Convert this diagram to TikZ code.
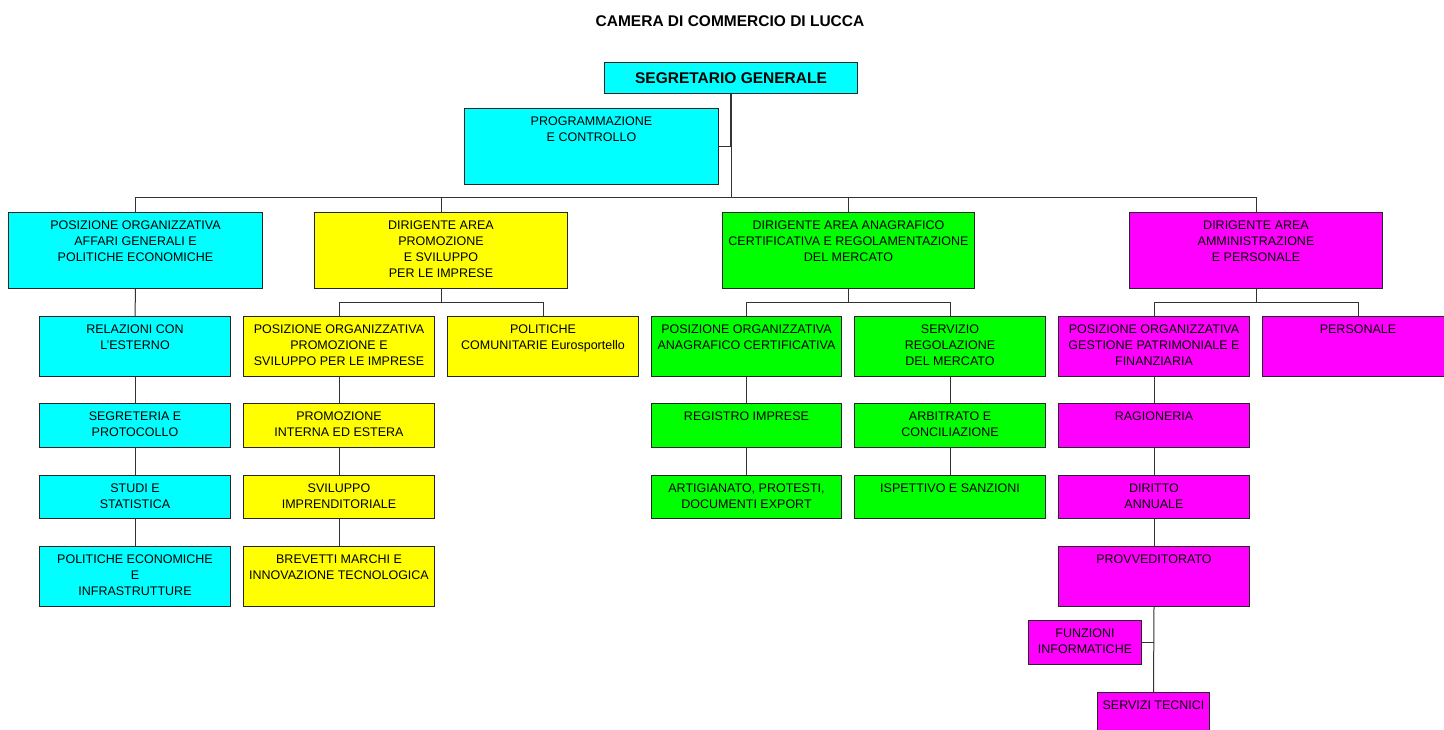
\documentclass[tikz,border=0pt]{standalone}
\usepackage{fontspec}
\setmainfont{Liberation Sans}
\usepackage{tikz}
\usepackage{xcolor}
\definecolor{aqua}{HTML}{00FFFF}
\definecolor{giallo}{HTML}{FFFF00}
\definecolor{verde}{HTML}{00FF00}
\definecolor{viola}{HTML}{FF00FF}

\begin{document}
\begin{tikzpicture}[x=1pt, y=-1pt,
  box/.style={draw=black!85, line width=1pt, fill=#1, anchor=north west, inner sep=0pt},
  txt/.style={anchor=north, yshift=-8.5pt, inner sep=0pt, align=center, font=\fontsize{12.5}{16}\selectfont},
  link/.style={draw=black!80, line width=1pt}]
\clip (0,0) rectangle (1444,729);

\node [font=\bfseries\fontsize{15.5}{18}\selectfont] (title) at (730,21) {CAMERA DI COMMERCIO DI LUCCA};

% vertice
\node [box=aqua, minimum width=253, minimum height=31, font=\bfseries\fontsize{15.5}{18}\selectfont] (segr) at (604,62) {SEGRETARIO GENERALE};
\node [box=aqua, minimum width=254, minimum height=76] (prog) at (464,108) {};
\node [txt] (prog-t) at (prog.north) {PROGRAMMAZIONE\\E CONTROLLO};

% aree
\node [box=aqua, minimum width=254, minimum height=76] (affari) at (8,212) {};
\node [txt] (affari-t) at (affari.north) {POSIZIONE ORGANIZZATIVA\\AFFARI GENERALI E\\POLITICHE ECONOMICHE};
\node [box=giallo, minimum width=253, minimum height=76] (dirpro) at (314,212) {};
\node [txt] (dirpro-t) at (dirpro.north) {DIRIGENTE AREA\\PROMOZIONE\\E SVILUPPO\\PER LE IMPRESE};
\node [box=verde, minimum width=252, minimum height=76] (diranag) at (722,212) {};
\node [txt] (diranag-t) at (diranag.north) {DIRIGENTE AREA ANAGRAFICO\\CERTIFICATIVA E REGOLAMENTAZIONE\\DEL MERCATO};
\node [box=viola, minimum width=253, minimum height=76] (diramm) at (1129,212) {};
\node [txt] (diramm-t) at (diramm.north) {DIRIGENTE AREA\\AMMINISTRAZIONE\\E PERSONALE};

% secondo livello
\node [box=aqua, minimum width=191, minimum height=60] (relaz) at (39,316) {};
\node [txt] (relaz-t) at (relaz.north) {RELAZIONI CON\\L'ESTERNO};
\node [box=giallo, minimum width=191, minimum height=60] (posprom) at (243,316) {};
\node [txt] (posprom-t) at (posprom.north) {POSIZIONE ORGANIZZATIVA\\PROMOZIONE E\\SVILUPPO PER LE IMPRESE};
\node [box=giallo, minimum width=191, minimum height=60] (polcom) at (447,316) {};
\node [txt] (polcom-t) at (polcom.north) {POLITICHE\\COMUNITARIE Eurosportello};
\node [box=verde, minimum width=190, minimum height=60] (posanag) at (651,316) {};
\node [txt] (posanag-t) at (posanag.north) {POSIZIONE ORGANIZZATIVA\\ANAGRAFICO CERTIFICATIVA};
\node [box=verde, minimum width=191, minimum height=60] (servreg) at (854,316) {};
\node [txt] (servreg-t) at (servreg.north) {SERVIZIO\\REGOLAZIONE\\DEL MERCATO};
\node [box=viola, minimum width=191, minimum height=60] (posgest) at (1058,316) {};
\node [txt] (posgest-t) at (posgest.north) {POSIZIONE ORGANIZZATIVA\\GESTIONE PATRIMONIALE E\\FINANZIARIA};
\node [box=viola, minimum width=191, minimum height=60] (pers) at (1262,316) {};
\node [txt] (pers-t) at (pers.north) {PERSONALE};

% terzo livello
\node [box=aqua, minimum width=191, minimum height=44] (segret) at (39,403) {};
\node [txt] (segret-t) at (segret.north) {SEGRETERIA E\\PROTOCOLLO};
\node [box=giallo, minimum width=191, minimum height=44] (promint) at (243,403) {};
\node [txt] (promint-t) at (promint.north) {PROMOZIONE\\INTERNA ED ESTERA};
\node [box=verde, minimum width=190, minimum height=44] (registro) at (651,403) {};
\node [txt] (registro-t) at (registro.north) {REGISTRO IMPRESE};
\node [box=verde, minimum width=191, minimum height=44] (arbitr) at (854,403) {};
\node [txt] (arbitr-t) at (arbitr.north) {ARBITRATO E\\CONCILIAZIONE};
\node [box=viola, minimum width=191, minimum height=44] (ragion) at (1058,403) {};
\node [txt] (ragion-t) at (ragion.north) {RAGIONERIA};

% quarto livello
\node [box=aqua, minimum width=191, minimum height=43] (studi) at (39,475) {};
\node [txt] (studi-t) at (studi.north) {STUDI E\\STATISTICA};
\node [box=giallo, minimum width=191, minimum height=43] (svil) at (243,475) {};
\node [txt] (svil-t) at (svil.north) {SVILUPPO\\IMPRENDITORIALE};
\node [box=verde, minimum width=190, minimum height=43] (artig) at (651,475) {};
\node [txt] (artig-t) at (artig.north) {ARTIGIANATO, PROTESTI,\\DOCUMENTI EXPORT};
\node [box=verde, minimum width=191, minimum height=43] (ispett) at (854,475) {};
\node [txt] (ispett-t) at (ispett.north) {ISPETTIVO E SANZIONI};
\node [box=viola, minimum width=191, minimum height=43] (diritto) at (1058,475) {};
\node [txt] (diritto-t) at (diritto.north) {DIRITTO\\ANNUALE};

% quinto livello
\node [box=aqua, minimum width=191, minimum height=60] (polecon) at (39,546) {};
\node [txt] (polecon-t) at (polecon.north) {POLITICHE ECONOMICHE\\E\\INFRASTRUTTURE};
\node [box=giallo, minimum width=191, minimum height=60] (brevetti) at (243,546) {};
\node [txt] (brevetti-t) at (brevetti.north) {BREVETTI MARCHI E\\INNOVAZIONE TECNOLOGICA};
\node [box=viola, minimum width=191, minimum height=60] (provv) at (1058,546) {};
\node [txt] (provv-t) at (provv.north) {PROVVEDITORATO};
\node [box=viola, minimum width=113, minimum height=44] (funz) at (1028,620) {};
\node [txt] (funz-t) at (funz.north) {FUNZIONI\\INFORMATICHE};
\node [box=viola, minimum width=112, minimum height=48] (servtec) at (1097,692) {};
\node [txt] (servtec-t) at (servtec.north) {SERVIZI TECNICI};

% collegamenti
\draw [link, line width=2pt] (segr.south) -- (segr.south |- prog.east);
\draw [link] (prog.east) -- (segr.south |- prog.east) -- ++(0,51);
\draw [link] (affari.north) -- ++(0,-15) -| (diramm.north);
\draw [link] (dirpro.north) -- ++(0,-15);
\draw [link] (diranag.north) -- ++(0,-15);

\draw [link] (dirpro.south) -- ++(0,14);
\draw [link] (posprom.north) -- ++(0,-14) -| (polcom.north);
\draw [link] (diranag.south) -- ++(0,14);
\draw [link] (posanag.north) -- ++(0,-14) -| (servreg.north);
\draw [link] (diramm.south) -- ++(0,14);
\draw [link] (posgest.north) -- ++(0,-14) -| (pers.north);

\foreach \a/\b in {affari/relaz, relaz/segret, segret/studi, studi/polecon,
  posprom/promint, promint/svil, svil/brevetti,
  posanag/registro, registro/artig, servreg/arbitr, arbitr/ispett,
  posgest/ragion, ragion/diritto, diritto/provv, provv/servtec}
  \draw [link] (\a.south) -- (\b.north);
\draw [link] (funz.east) -- (funz.east -| provv.south);
\end{tikzpicture}
\end{document}
